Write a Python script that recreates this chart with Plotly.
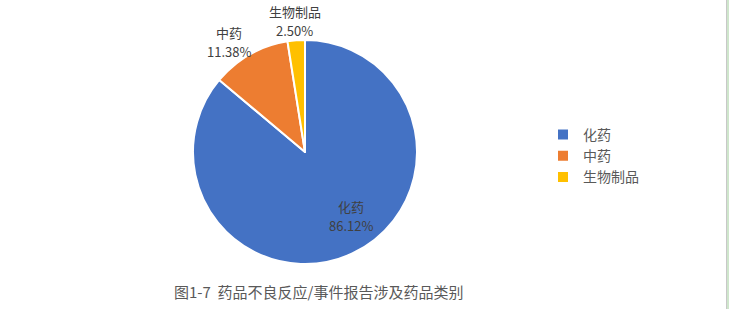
import math
import plotly.graph_objects as go

# Drug categories involved in ADR/AE reports (share of reports, %)
categories = ["化药", "中药", "生物制品"]
shares = [86.12, 11.38, 2.50]
colors = ["#4472C4", "#ED7D31", "#FFC000"]
caption = "图1-7  药品不良反应/事件报告涉及药品类别"

W, H = 729, 309
cx, cy, r = 305, 152, 112          # pie centre and radius in pixels
font_cjk = "Microsoft YaHei, Noto Sans CJK SC, sans-serif"

# label placement: radial factor and pixel nudge per slice
label_radius = [0.69, 1.19, 1.17]
label_nudge = [(13, -6), (-10, 6), (0, 0)]
line_gap = 19                       # distance between name line and value line

fig = go.Figure(go.Pie(
    labels=categories,
    values=shares,
    marker=dict(colors=colors, line=dict(color="white", width=2)),
    sort=False,
    direction="clockwise",
    rotation=0,
    textinfo="none",
    hoverinfo="label+percent",
    domain=dict(x=[(cx - r) / W, (cx + r) / W],
                y=[(H - cy - r) / H, (H - cy + r) / H]),
))

# data labels: category name and share, placed along each slice's mid angle
total = sum(shares)
acc = 0.0
annotations = []
label_font = dict(family=font_cjk, size=13, color="#404040")
for name, v, f, (dx, dy) in zip(categories, shares, label_radius, label_nudge):
    mid = (acc + v / 2) / total * 2 * math.pi
    acc += v
    px = cx + r * f * math.sin(mid) + dx
    py = cy - r * f * math.cos(mid) + dy
    for txt, oy in ((name, -line_gap / 2), (f"{v:.2f}%", line_gap / 2)):
        annotations.append(dict(
            x=px / W, y=1 - (py + oy) / H, xref="paper", yref="paper",
            text=txt, showarrow=False, font=label_font,
            xanchor="center", yanchor="middle",
        ))

annotations.append(dict(
    x=318 / W, y=1 - 291 / H, xref="paper", yref="paper",
    text=caption, showarrow=False,
    font=dict(family=font_cjk, size=15, color="#595959"),
    xanchor="center", yanchor="middle",
))

fig.update_layout(
    width=W, height=H,
    margin=dict(l=0, r=0, t=0, b=0),
    paper_bgcolor="white", plot_bgcolor="white",
    showlegend=True,
    legend=dict(
        x=543 / W, y=1 - 119 / H, xanchor="left", yanchor="top",
        font=dict(family=font_cjk, size=14, color="#595959"),
        itemwidth=30, tracegroupgap=0,
        bgcolor="rgba(0,0,0,0)",
    ),
    annotations=annotations,
    shapes=[
        dict(type="line", xref="paper", yref="paper",
             x0=726.5 / W, x1=726.5 / W, y0=0, y1=1,
             line=dict(color="#c8c8c8", width=1)),
        dict(type="line", xref="paper", yref="paper",
             x0=728 / W, x1=728 / W, y0=0, y1=1,
             line=dict(color="#cfe6cc", width=2)),
    ],
)

fig.write_html("out.html")
